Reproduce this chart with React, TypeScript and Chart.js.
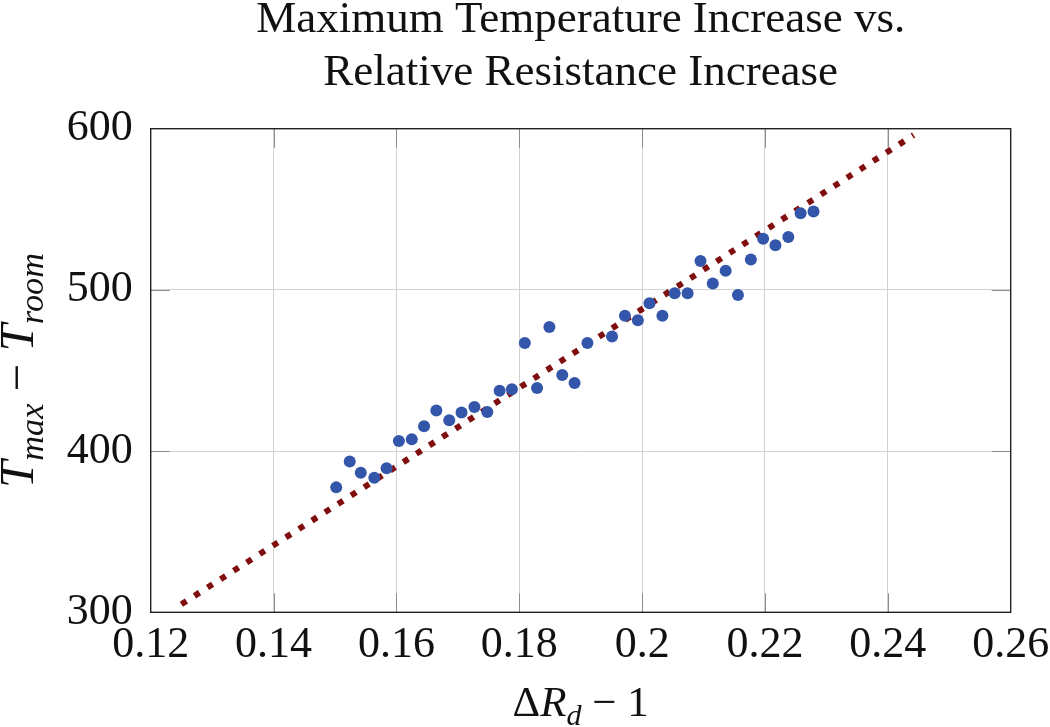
import React, { useEffect, useRef } from "react";
import { Chart, registerables } from "chart.js";

Chart.register(...registerables);

// ---- data ----
const X_VALUES = [
  0.1502, 0.1524, 0.1542, 0.1564, 0.1584, 0.1604, 0.1625, 0.1645, 0.1665, 0.1686,
  0.1706, 0.1727, 0.1748, 0.1768, 0.1788, 0.1809, 0.1829, 0.1849, 0.187, 0.189,
  0.1911, 0.1951, 0.1972, 0.1993, 0.2012, 0.2033, 0.2053, 0.2074, 0.2095, 0.2115,
  0.2136, 0.2156, 0.2177, 0.2197, 0.2217, 0.2238, 0.2258, 0.2279,
];
const Y_VALUES = [
  377.5, 393.5, 386.5, 383.4, 389.3, 406.2, 407.4, 415.4, 425.2, 419.1,
  424.0, 427.3, 424.3, 437.4, 438.4, 467.1, 439.2, 477.0, 447.2, 442.3,
  467.1, 471.1, 484.0, 481.1, 491.7, 484.0, 497.9, 497.9, 518.0, 503.9,
  511.9, 496.9, 518.8, 531.8, 527.7, 532.8, 547.6, 548.6,
];
const FIT_X = [0.125, 0.2442];
const FIT_Y = [305, 596];

const X_TICKS = [0.12, 0.14, 0.16, 0.18, 0.2, 0.22, 0.24, 0.26];
const X_TICK_LABELS = ["0.12", "0.14", "0.16", "0.18", "0.2", "0.22", "0.24", "0.26"];
const Y_TICKS = [300, 400, 500, 600];
const Y_TICK_LABELS = ["300", "400", "500", "600"];

const TITLE_LINES = ["Maximum Temperature Increase vs.", "Relative Resistance Increase"];

type Part = { t: string; it?: boolean; sub?: boolean };
const Y_TITLE: Part[] = [
  { t: "T", it: true },
  { t: "max", it: true, sub: true },
  { t: " \u2212 " },
  { t: "T", it: true },
  { t: "room", it: true, sub: true },
];
const X_TITLE: Part[] = [
  { t: "\u0394" },
  { t: "R", it: true },
  { t: "d", it: true, sub: true },
  { t: " \u2212 1" },
];

const SERIF = '"Liberation Serif", "Times New Roman", serif';

function fontFor(p: Part, size: number) {
  const s = p.sub ? size * 0.7 : size;
  return `${p.it ? "italic " : ""}${s}px ${SERIF}`;
}

function drawRich(ctx: CanvasRenderingContext2D, parts: Part[], cx: number, by: number, size: number) {
  let total = 0;
  const widths = parts.map((p) => {
    ctx.font = fontFor(p, size);
    const w = ctx.measureText(p.t).width;
    total += w;
    return w;
  });
  let x = cx - total / 2;
  ctx.textAlign = "left";
  ctx.textBaseline = "alphabetic";
  parts.forEach((p, i) => {
    ctx.font = fontFor(p, size);
    ctx.fillText(p.t, x, p.sub ? by + size * 0.2 : by);
    x += widths[i];
  });
}

const decor = {
  id: "decor",
  beforeDatasetsDraw(chart: any) {
    const { ctx, chartArea: a, scales } = chart;
    const TL = 19;
    ctx.save();
    ctx.strokeStyle = "#8c8c8c";
    ctx.lineWidth = 1;
    ctx.beginPath();
    X_TICKS.slice(1, -1).forEach((v) => {
      const px = Math.round(scales.x.getPixelForValue(v)) + 0.5;
      ctx.moveTo(px, a.bottom);
      ctx.lineTo(px, a.bottom - TL);
      ctx.moveTo(px, a.top);
      ctx.lineTo(px, a.top + TL);
    });
    Y_TICKS.slice(1, -1).forEach((v) => {
      const py = Math.round(scales.y.getPixelForValue(v)) + 0.5;
      ctx.moveTo(a.left, py);
      ctx.lineTo(a.left + TL, py);
      ctx.moveTo(a.right, py);
      ctx.lineTo(a.right - TL, py);
    });
    ctx.stroke();
    ctx.strokeStyle = "#222222";
    ctx.lineWidth = 1.4;
    ctx.strokeRect(a.left, a.top, a.right - a.left, a.bottom - a.top);
    ctx.restore();
  },
  afterDraw(chart: any) {
    const { ctx, chartArea: a } = chart;
    const cx = (a.left + a.right) / 2;
    const cy = (a.top + a.bottom) / 2;
    ctx.save();
    ctx.fillStyle = "#111111";
    ctx.font = `45px ${SERIF}`;
    ctx.textAlign = "center";
    ctx.textBaseline = "alphabetic";
    ctx.fillText(TITLE_LINES[0], cx, 32);
    ctx.fillText(TITLE_LINES[1], cx, 85);

    drawRich(ctx, X_TITLE, cx, 716, 43);

    ctx.translate(33, cy);
    ctx.rotate(-Math.PI / 2);
    drawRich(ctx, Y_TITLE, 0, 0, 49);
    ctx.restore();
  },
};

export default function App() {
  const ref = useRef<HTMLCanvasElement | null>(null);
  useEffect(() => {
    if (!ref.current) return;
    const points = X_VALUES.map((x, i) => ({ x, y: Y_VALUES[i] }));
    const fit = FIT_X.map((x, i) => ({ x, y: FIT_Y[i] }));
    const chart = new Chart(ref.current, {
      type: "scatter",
      data: {
        datasets: [
          {
            label: "measurements",
            data: points,
            backgroundColor: "rgb(52, 86, 170)",
            borderWidth: 0,
            pointRadius: 6,
          },
          {
            label: "fit",
            data: fit,
            showLine: true,
            borderColor: "rgb(128, 14, 14)",
            borderWidth: 6,
            borderDash: [6, 9.5],
            borderCapStyle: "butt",
            pointRadius: 0,
            fill: false,
          } as any,
        ],
      },
      options: {
        responsive: false,
        animation: false,
        layout: { padding: { top: 128.7, right: 39.3, left: 0, bottom: 0 } },
        plugins: {
          legend: { display: false },
          tooltip: { enabled: false },
          title: { display: false },
        },
        scales: {
          x: {
            type: "linear",
            min: 0.12,
            max: 0.26,
            afterBuildTicks: (s: any) => {
              s.ticks = X_TICKS.map((v) => ({ value: v }));
            },
            afterFit: (s: any) => {
              s.height = 114.7;
              s.paddingLeft = 0;
              s.paddingRight = 0;
            },
            ticks: {
              autoSkip: false,
              maxRotation: 0,
              padding: 7,
              color: "#111111",
              font: { family: SERIF, size: 44 },
              callback: (_v: any, i: number) => X_TICK_LABELS[i],
            },
            grid: { color: "#d2d2d2", lineWidth: 1, drawTicks: false },
            border: { display: false },
          },
          y: {
            type: "linear",
            min: 300,
            max: 600,
            afterBuildTicks: (s: any) => {
              s.ticks = Y_TICKS.map((v) => ({ value: v }));
            },
            afterFit: (s: any) => {
              s.width = 150.7;
              s.paddingTop = 0;
              s.paddingBottom = 0;
            },
            ticks: {
              autoSkip: false,
              padding: 18,
              color: "#111111",
              font: { family: SERIF, size: 44 },
              callback: (_v: any, i: number) => Y_TICK_LABELS[i],
            },
            grid: { color: "#d2d2d2", lineWidth: 1, drawTicks: false },
            border: { display: false },
          },
        },
      } as any,
      plugins: [decor],
    });
    return () => chart.destroy();
  }, []);
  return (
    <div style={{ position: "absolute", left: 0, top: 0, width: 1050, height: 727, background: "#ffffff" }}>
      <canvas ref={ref} width={1050} height={727} style={{ width: 1050, height: 727, display: "block" }} />
    </div>
  );
}
